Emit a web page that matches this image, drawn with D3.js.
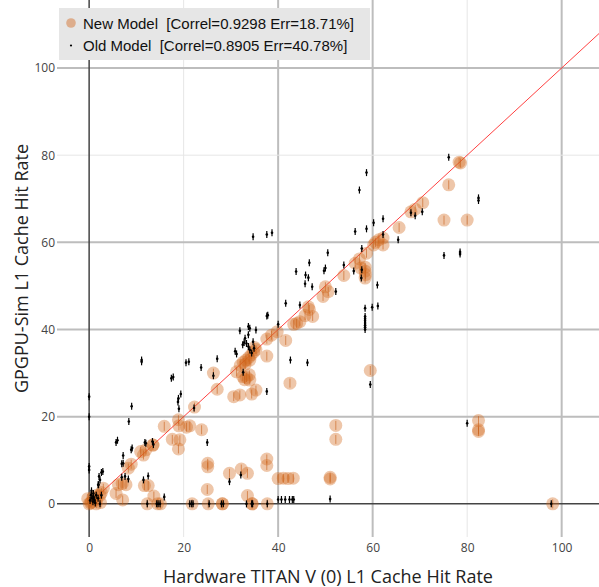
<!DOCTYPE html>
<html>
<head>
<meta charset="utf-8">
<script src="https://cdn.jsdelivr.net/npm/d3@7"></script>
<style>
  body { margin: 0; background: #fff; }
  text { font-family: "Open Sans", sans-serif; }
  .legend text { font-family: "Liberation Sans", Arial, sans-serif; white-space: pre; }
</style>
</head>
<body>
<div id="chart-area"></div>
<script>

var width = 599,
    height = 587;

// data (hit rate, %)
var newModelX = [78.3, 78.6, 76.1, 70.6, 69.0, 68.1, 75.1, 80.0, 65.6, 62.2, 61.3, 60.2, 62.2, 60.6, 58.7, 57.2, 56.3, 57.5,
  58.4, 58.4, 58.5, 58.4, 53.9, 50.0, 50.6, 49.5, 46.4, 46.6, 45.7, 47.3, 44.6, 43.9, 43.3, 41.6, 39.8, 38.6, 37.6, 37.6,
  42.5, 59.5, 32.0, 32.6, 33.2, 33.8, 34.3, 34.8, 35.3, 34.0, 33.0, 35.0, 31.2, 32.5, 33.3, 33.9, 34.0, 32.9, 35.3, 34.4,
  31.9, 30.6, 26.3, 27.1, 22.3, 21.3, 23.8, 25.1, 25.1, 25.0, 29.7, 32.2, 33.5, 37.6, 37.6, 33.5, 40.0, 41.1, 42.1, 43.2,
  52.2, 52.2, 51.0, 51.0, 82.4, 82.4, 82.4, 98.1, 21.8, 25.2, 28.2, 28.2, 34.5, 34.5, 37.7, 12.3, 14.5, 15.1,
  18.9, 15.9, 19.0, 20.6, 17.6, 19.2, 18.9, 13.5, 13.5, 12.0, 11.5, 10.9, 8.9, 8.3, 6.2, 7.0, 7.8, 5.7, 7.1, 11.7, 12.5,
  13.7, 2.6, 1.6, 0.0, 0.3, 0.5, 1.5, -0.3, 0.8, 1.6, 2.4, 3.0, 2.3];
var newModelY = [78.4, 78.2, 73.2, 69.1, 67.6, 67.0, 65.1, 65.1, 63.4, 61.0, 60.6, 59.4, 59.4, 60.0, 57.5, 56.2, 55.2, 54.1,
  54.3, 53.4, 52.6, 51.8, 52.4, 49.8, 48.7, 47.6, 45.2, 44.6, 43.2, 43.0, 41.8, 41.4, 41.2, 37.5, 39.5, 38.7, 37.8, 33.9,
  27.7, 30.6, 31.8, 32.5, 33.0, 33.6, 34.2, 34.8, 35.4, 33.0, 32.0, 35.9, 30.3, 29.2, 29.0, 29.6, 28.4, 28.5, 26.1, 25.2,
  25.0, 24.6, 30.0, 26.3, 22.2, 17.9, 17.0, 9.3, 8.5, 3.3, 7.0, 8.0, 7.0, 10.3, 8.8, 1.9, 5.8, 5.9, 5.8, 5.9,
  18.0, 14.8, 5.7, 6.1, 19.1, 16.6, 17.0, 0.0, 0.0, 0.0, 0.0, 0.0, 0.0, 0.0, 0.0, 0.0, 0.0, 0.0,
  19.3, 17.8, 17.9, 17.6, 14.8, 14.7, 12.6, 13.5, 13.5, 12.4, 11.2, 12.0, 9.1, 8.2, 4.4, 4.7, 4.4, 2.4, 0.9, 4.2, 4.2,
  1.8, 2.6, 0.9, 0.0, 0.2, 0.4, 0.0, 1.2, 1.5, 2.0, 0.3, 3.6, 2.0];

var oldModelX = [76.1, 58.7, 57.2, 82.4, 82.4, 70.5, 68.1, 69.0, 60.2, 62.2, 58.7, 56.3, 62.2, 65.4, 57.7, 50.5, 75.1,
  78.5, 78.5, 46.6, 53.9, 50.0, 49.7, 56.0, 57.7, 43.8, 45.8, 46.4, 57.6, 45.7, 47.2, 61.0, 52.2, 44.6, 59.9, 61.1, 58.4,
  58.4, 58.4, 58.4, 58.4, 58.4, 58.4, 58.4, 41.6, 37.6, 37.8, 40.0, 34.7, 37.6, 38.7, 31.9, 33.7, 34.0, 35.3, 33.0, 33.7,
  34.7, 32.5, 33.7, 34.0, 34.9, 34.4, 32.8, 33.3, 30.9, 31.2, 27.1, 23.7, 20.5, 21.1, 11.1, 11.1, 42.6, 46.2, 26.3, 32.6,
  37.6, 59.5, 17.4, 17.8, 19.4, 18.9, 9.0, 19.0, 22.2, 18.8, 8.4, 25.0, 5.7, 6.0, 11.8, 12.0, 13.4, 13.6, 8.9, 9.1, 7.2,
  6.9, 7.2, 2.6, 2.9, 2.1, 2.3, 2.0, 6.9, 7.6, 8.3, 11.5, 12.5, 29.7, 32.1, 15.9, 80.0, 51.0, 40.0, 40.7, 41.5, 42.4,
  43.0, 43.3, 0.0, 0.0, 0.0, 0.0, 0.4, 0.6, 0.9, 1.1, 1.5, 0.8, 1.3, 1.9, 2.6, 0.2, 0.9, 1.9, 0.5,
  12.3, 14.3, 14.6, 15.0, 21.3, 21.7, 22.0, 25.4, 28.0, 28.4, 33.3, 34.4, 34.6, 37.7, 97.8, 2.3];
var oldModelY = [79.5, 76.0, 72.0, 69.6, 70.2, 67.0, 66.8, 66.1, 64.5, 65.4, 63.1, 62.5, 61.8, 60.6, 58.6, 57.6, 57.0,
  57.3, 57.8, 55.3, 54.8, 54.1, 53.5, 53.4, 53.7, 53.3, 52.5, 51.9, 51.8, 50.5, 49.8, 50.2, 48.7, 45.6, 45.1, 45.4, 44.9,
  40.0, 40.5, 41.0, 41.5, 42.0, 42.5, 43.0, 46.0, 43.1, 43.3, 41.2, 61.3, 61.8, 62.2, 39.7, 40.7, 40.3, 39.9, 38.0, 38.8,
  37.2, 36.5, 36.1, 35.3, 35.7, 34.6, 37.0, 36.8, 35.0, 34.4, 33.3, 31.3, 32.4, 32.6, 32.6, 33.0, 33.0, 32.4, 29.4, 30.2,
  25.8, 27.4, 28.8, 29.1, 25.2, 24.2, 22.4, 21.8, 22.0, 23.4, 18.9, 14.1, 14.1, 14.6, 14.1, 13.9, 14.3, 13.6, 12.4, 12.8, 11.1,
  9.2, 9.3, 7.2, 7.4, 6.3, 5.5, 4.4, 6.1, 6.3, 5.7, 5.5, 6.4, 5.1, 6.6, 1.6, 18.5, 1.1, 1.0, 1.0, 1.0, 1.0,
  1.0, 1.0, 24.6, 20.0, 8.6, 7.8, 2.0, 1.3, 1.7, 0.9, 2.0, 0.5, 0.2, 1.3, 2.0, 0.8, 2.4, 4.4, 3.0,
  0, 0, 0, 0, 0, 0, 0, 0, 0, 0, 0, 0, 0, 0, 0, 0];

var tickValues = [0, 20, 40, 60, 80, 100];
var legendLabels = ["New Model  [Correl=0.9298 Err=18.71%]", "Old Model  [Correl=0.8905 Err=40.78%]"];
var xTitle = "Hardware TITAN V (0) L1 Cache Hit Rate";
var yTitle = "GPGPU-Sim L1 Cache Hit Rate";

// plot area
var plotLeft = 57, plotRight = 599, plotTop = 0, plotBottom = 537;

var x = d3.scaleLinear().domain([-6.8, 107.9]).range([plotLeft, plotRight]);
var y = d3.scaleLinear().domain([-7.6, 115.6]).range([plotBottom, plotTop]);

// grid lines look heavier on some ticks in the reference
var heavyX = [40, 60, 100], heavyY = [20, 40, 60, 100];

var svg = d3.select("#chart-area").append("svg")
    .attr("width", width)
    .attr("height", height);

var grid = svg.append("g");
grid.selectAll(".gx")
    .data(tickValues.filter(d => d != 0))
    .enter().append("line")
    .attr("x1", d => x(d)).attr("x2", d => x(d))
    .attr("y1", plotTop).attr("y2", plotBottom)
    .style("stroke", d => heavyX.includes(d) ? "#bdbdbd" : "#e6e6e6")
    .style("stroke-width", d => heavyX.includes(d) ? 2 : 1);
grid.selectAll(".gy")
    .data(tickValues.filter(d => d != 0))
    .enter().append("line")
    .attr("y1", d => y(d)).attr("y2", d => y(d))
    .attr("x1", plotLeft).attr("x2", plotRight)
    .style("stroke", d => heavyY.includes(d) ? "#bdbdbd" : "#e6e6e6")
    .style("stroke-width", d => heavyY.includes(d) ? 2 : 1);

// zero lines
svg.append("line")
    .attr("x1", x(0)).attr("x2", x(0)).attr("y1", plotTop).attr("y2", plotBottom)
    .style("stroke", "#444").style("stroke-width", 1.5);
svg.append("line")
    .attr("y1", y(0)).attr("y2", y(0)).attr("x1", plotLeft).attr("x2", plotRight)
    .style("stroke", "#444").style("stroke-width", 1.5);

// axes
var xAxis = svg.append("g")
    .attr("transform", "translate(0," + plotBottom + ")")
    .call(d3.axisBottom(x).tickValues(tickValues).tickSize(0).tickPadding(6.5));
var yAxis = svg.append("g")
    .attr("transform", "translate(" + plotLeft + ",0)")
    .call(d3.axisLeft(y).tickValues(tickValues).tickSize(0).tickPadding(2));
[xAxis, yAxis].forEach(function(a) {
  a.select(".domain").remove();
  a.selectAll("text").style("font-family", "'Open Sans', sans-serif")
    .style("font-size", "12px").style("fill", "#444");
});

// y = x reference line
svg.append("line")
    .attr("x1", x(0)).attr("y1", y(0))
    .attr("x2", x(110)).attr("y2", y(110))
    .style("stroke", "red").style("stroke-opacity", 0.75).style("stroke-width", 1);

var marks = svg.append("g");

// new model
var newData = newModelX.map((d, i) => ({x: d, y: newModelY[i]}));
var nm = marks.selectAll(".new")
    .data(newData)
    .enter().append("g")
    .attr("class", "new")
    .attr("transform", d => "translate(" + x(d.x) + "," + y(d.y) + ")");
nm.append("circle")
    .attr("r", 6.5)
    .style("fill", "rgb(210,105,30)")
    .style("fill-opacity", 0.38);
nm.append("line")
    .attr("y1", -4.5).attr("y2", 4.5)
    .style("stroke", "rgb(200,95,25)")
    .style("stroke-opacity", 0.6)
    .style("stroke-width", 1);

// old model
var oldData = oldModelX.map((d, i) => ({x: d, y: oldModelY[i]}));
var om = marks.selectAll(".old")
    .data(oldData)
    .enter().append("g")
    .attr("class", "old")
    .attr("transform", d => "translate(" + x(d.x) + "," + y(d.y) + ")");
om.append("line")
    .attr("y1", -3.5).attr("y2", 3.5)
    .style("stroke", "#000").style("stroke-width", 1.2);
om.append("circle")
    .attr("r", 1.3)
    .style("fill", "#000");

// legend
var legend = svg.append("g").attr("class", "legend");
legend.append("rect")
    .attr("x", 59).attr("y", 8)
    .attr("width", 311).attr("height", 52)
    .style("fill", "#e6e6e6");
legend.append("circle")
    .attr("cx", 71).attr("cy", 23).attr("r", 4.8)
    .style("fill", "rgb(210,105,30)").style("fill-opacity", 0.45);
legend.append("circle")
    .attr("cx", 71).attr("cy", 45.5).attr("r", 1.1)
    .style("fill", "#000");
legend.selectAll(".lt")
    .data(legendLabels)
    .enter().append("text")
    .attr("x", 83)
    .attr("y", (d, i) => 29 + i * 22)
    .style("font-size", "15px")
    .style("fill", "#111")
    .text(d => d);

// axis titles
svg.append("text")
    .attr("x", (plotLeft + plotRight) / 2)
    .attr("y", 583)
    .attr("text-anchor", "middle")
    .style("font-size", "18px")
    .style("fill", "#222")
    .text(xTitle);
svg.append("text")
    .attr("transform", "translate(28," + ((plotTop + plotBottom) / 2) + ") rotate(-90)")
    .attr("text-anchor", "middle")
    .style("font-size", "18px")
    .style("fill", "#222")
    .text(yTitle);

</script>
</body>
</html>
